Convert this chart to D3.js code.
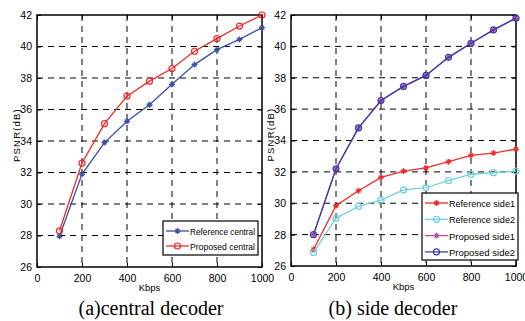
<!DOCTYPE html>
<html>
<head>
<meta charset="utf-8">
<script src="https://cdn.jsdelivr.net/npm/d3@7"></script>
<style>
  body { margin: 0; background: #fff; }
  svg { display: block; }
  .tick text { font-family: "Liberation Sans", Arial, sans-serif; font-size: 10.5px; }
</style>
</head>
<body>
<svg id="chart" width="525" height="321"></svg>
<script>
// data
const kbps = [100, 200, 300, 400, 500, 600, 700, 800, 900, 1000];
const refCentral = [27.95, 31.9, 33.9, 35.25, 36.3, 37.6, 38.85, 39.8, 40.45, 41.2];
const propCentral = [28.3, 32.6, 35.1, 36.85, 37.8, 38.6, 39.7, 40.5, 41.3, 42.0];
const refSide1 = [27.05, 29.85, 30.8, 31.65, 32.05, 32.25, 32.65, 33.05, 33.2, 33.45];
const refSide2 = [26.85, 29.05, 29.8, 30.2, 30.85, 31.0, 31.45, 31.85, 31.95, 32.05];
const propSide1 = [28.0, 32.2, 34.8, 36.55, 37.45, 38.15, 39.3, 40.2, 41.05, 41.8];
const propSide2 = [28.0, 32.2, 34.8, 36.55, 37.45, 38.15, 39.3, 40.2, 41.05, 41.8];
const xTicks = [0, 200, 400, 600, 800, 1000];
const yTicks = [26, 28, 30, 32, 34, 36, 38, 40, 42];

const svg = d3.select('#chart');
const sans = '"Liberation Sans", Arial, sans-serif';

// marker shapes
function drawMarker(g, type, x, y, color) {
  if (type === 'star') {
    const r = 3;
    g.append('path')
      .attr('d', `M${x - r},${y}H${x + r}M${x},${y - r}V${y + r}M${x - 2},${y - 2}L${x + 2},${y + 2}M${x - 2},${y + 2}L${x + 2},${y - 2}`)
      .attr('stroke', color).attr('stroke-width', 1.2).attr('fill', 'none');
  } else {
    g.append('circle').attr('cx', x).attr('cy', y).attr('r', 3)
      .attr('stroke', color).attr('stroke-width', 1.2).attr('fill', 'none');
  }
}

function panel(opts) {
  const { left, right, top, bottom, series, legend, caption, capX } = opts;
  const g = svg.append('g');
  const x = d3.scaleLinear().domain([0, 1000]).range([left, right]);
  const y = d3.scaleLinear().domain([26, 42]).range([bottom, top]);

  // grid
  g.append('g').selectAll('line').data(xTicks.slice(1, -1)).join('line')
    .attr('x1', d => x(d)).attr('x2', d => x(d)).attr('y1', top).attr('y2', bottom)
    .attr('stroke', '#000').attr('stroke-width', 1).attr('stroke-dasharray', '6,5');
  g.append('g').selectAll('line').data(yTicks.slice(1, -1)).join('line')
    .attr('x1', left).attr('x2', right).attr('y1', d => y(d)).attr('y2', d => y(d))
    .attr('stroke', '#000').attr('stroke-width', 1).attr('stroke-dasharray', '6,5');

  // axes
  g.append('g').attr('transform', `translate(0,${bottom})`)
    .call(d3.axisBottom(x).tickValues(xTicks).tickSize(-4).tickPadding(8).tickFormat(d3.format('d')));
  g.append('g').attr('transform', `translate(${left},0)`)
    .call(d3.axisLeft(y).tickValues(yTicks).tickSize(-4).tickPadding(5));
  g.append('g').attr('transform', `translate(${right},0)`)
    .call(d3.axisRight(y).tickValues(yTicks).tickSize(-4).tickFormat(''));
  g.append('g').attr('transform', `translate(0,${top})`)
    .call(d3.axisTop(x).tickValues(xTicks).tickSize(-4).tickFormat(''));
  g.selectAll('.domain').remove();
  g.selectAll('.tick line').attr('stroke', '#000');
  g.append('rect').attr('x', left).attr('y', top).attr('width', right - left).attr('height', bottom - top)
    .attr('fill', 'none').attr('stroke', '#000').attr('stroke-width', 1.5);

  // lines
  const line = d3.line().x((d, i) => x(kbps[i])).y(d => y(d));
  series.forEach(s => {
    g.append('path').datum(s.values).attr('d', line)
      .attr('fill', 'none').attr('stroke', s.color).attr('stroke-width', 1.3);
    s.values.forEach((v, i) => drawMarker(g, s.marker, x(kbps[i]), y(v), s.color));
  });

  // axis labels
  g.append('text').attr('x', (left + right) / 2).attr('y', bottom + 24)
    .attr('text-anchor', 'middle').attr('font-family', sans).attr('font-size', 9.5).text('Kbps');
  g.append('text').attr('transform', `translate(${left - 17},${(top + bottom) / 2 - 6}) rotate(-90)`)
    .attr('text-anchor', 'middle').attr('font-family', sans).attr('font-size', 9.5)
    .attr('letter-spacing', 1.2).text('PSNR(dB)');

  // legend
  const lg = g.append('g');
  lg.append('rect').attr('x', legend.x).attr('y', legend.y).attr('width', legend.w).attr('height', legend.h)
    .attr('fill', '#fff').attr('stroke', '#000').attr('stroke-width', 1.2);
  series.forEach((s, i) => {
    const yy = legend.y + legend.first + i * legend.step;
    lg.append('line').attr('x1', legend.x + 3).attr('x2', legend.x + 26).attr('y1', yy).attr('y2', yy)
      .attr('stroke', s.color).attr('stroke-width', 1.3);
    drawMarker(lg, s.marker, legend.x + 14.5, yy, s.color);
    lg.append('text').attr('x', legend.x + 27).attr('y', yy + 4)
      .attr('font-family', sans).attr('font-size', 9.5)
      .attr('textLength', legend.w - 30).attr('lengthAdjust', 'spacingAndGlyphs').text(s.name);
  });

  // caption
  g.append('text').attr('x', capX).attr('y', 315).attr('text-anchor', 'middle')
    .attr('font-family', '"Liberation Serif", "Times New Roman", serif').attr('font-size', 20).text(caption);
}

panel({
  left: 37, right: 262, top: 15, bottom: 267,
  series: [
    { name: 'Reference central', values: refCentral, color: '#3a4fa6', marker: 'star' },
    { name: 'Proposed central', values: propCentral, color: '#ee2a2a', marker: 'circle' }
  ],
  legend: { x: 163, y: 221, w: 95, h: 34, first: 10, step: 15 },
  caption: '(a)central decoder', capX: 151
});

panel({
  left: 291, right: 516, top: 15, bottom: 266,
  series: [
    { name: 'Reference side1', values: refSide1, color: '#ee2a2a', marker: 'star' },
    { name: 'Reference side2', values: refSide2, color: '#6fd0d8', marker: 'circle' },
    { name: 'Proposed side1', values: propSide1, color: '#b04ca8', marker: 'star' },
    { name: 'Proposed side2', values: propSide2, color: '#3c3ca6', marker: 'circle' }
  ],
  legend: { x: 422, y: 193, w: 96, h: 67, first: 10, step: 16.3 },
  caption: '(b) side decoder', capX: 393
});
</script>
</body>
</html>
